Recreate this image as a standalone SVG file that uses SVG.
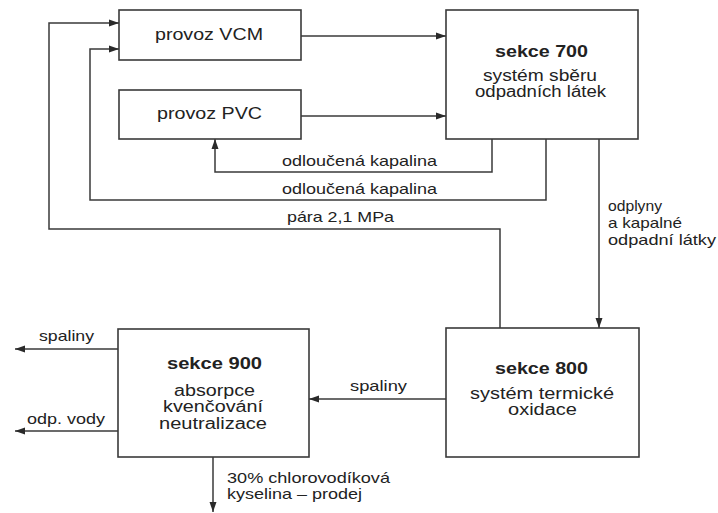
<svg xmlns="http://www.w3.org/2000/svg" width="718" height="513" viewBox="0 0 718 513">
<style>
.box{fill:#fff;stroke:#3a3a3a;stroke-width:1.6}
.ln{fill:none;stroke:#3a3a3a;stroke-width:1.5}
text{font-family:"Liberation Sans",Arial,sans-serif;fill:#222}
.t{font-size:16px}
.b{font-size:16px;font-weight:bold}
.l{font-size:15px}
</style>
<defs>
<marker id="ah" markerUnits="userSpaceOnUse" markerWidth="11" markerHeight="8" refX="10" refY="4" orient="auto">
<path d="M0,0.5 L10,4 L0,7.5 z" fill="#2a2a2a"/>
</marker>
</defs>
<rect width="718" height="513" fill="#fff"/>
<g id="connectors">
<path class="ln" d="M301,36 H446" marker-end="url(#ah)"/>
<path class="ln" d="M301,116 H446" marker-end="url(#ah)"/>
<path class="ln" d="M492,139 V172 H215 V139" marker-end="url(#ah)"/>
<path class="ln" d="M546,139 V200 H90 V49 H119" marker-end="url(#ah)"/>
<path class="ln" d="M500,328 V229 H49 V23 H119" marker-end="url(#ah)"/>
<path class="ln" d="M599,139 V328" marker-end="url(#ah)"/>
<path class="ln" d="M446,399 H309" marker-end="url(#ah)"/>
<path class="ln" d="M118,349 H15" marker-end="url(#ah)"/>
<path class="ln" d="M118,431 H15" marker-end="url(#ah)"/>
<path class="ln" d="M213,457 V512" marker-end="url(#ah)"/>
<text class="l" x="282" y="166" textLength="155" lengthAdjust="spacingAndGlyphs">odloučená kapalina</text>
<text class="l" x="282" y="194" textLength="155" lengthAdjust="spacingAndGlyphs">odloučená kapalina</text>
<text class="l" x="287" y="222" textLength="107" lengthAdjust="spacingAndGlyphs">pára 2,1 MPa</text>
<text class="l" x="608" y="211" textLength="54" lengthAdjust="spacingAndGlyphs">odplyny</text>
<text class="l" x="608" y="228" textLength="74" lengthAdjust="spacingAndGlyphs">a kapalné</text>
<text class="l" x="608" y="245" textLength="108" lengthAdjust="spacingAndGlyphs">odpadní látky</text>
<text class="l" x="350" y="391" textLength="57" lengthAdjust="spacingAndGlyphs">spaliny</text>
<text class="l" x="39" y="341" textLength="55" lengthAdjust="spacingAndGlyphs">spaliny</text>
<text class="l" x="27" y="424" textLength="78" lengthAdjust="spacingAndGlyphs">odp. vody</text>
<text class="l" x="227" y="483" textLength="163" lengthAdjust="spacingAndGlyphs">30% chlorovodíková</text>
<text class="l" x="227" y="499" textLength="135" lengthAdjust="spacingAndGlyphs">kyselina – prodej</text>
</g>
<g id="vcm">
<rect class="box" x="119" y="10" width="182" height="50"/>
<text class="t" x="155" y="40" textLength="108" lengthAdjust="spacingAndGlyphs">provoz VCM</text>
</g>
<g id="pvc">
<rect class="box" x="119" y="90" width="182" height="49"/>
<text class="t" x="157" y="119" textLength="105" lengthAdjust="spacingAndGlyphs">provoz PVC</text>
</g>
<g id="s700">
<rect class="box" x="446" y="10" width="192" height="129"/>
<text class="b" x="495" y="57" textLength="93" lengthAdjust="spacingAndGlyphs">sekce 700</text>
<text class="t" x="483" y="81" textLength="114" lengthAdjust="spacingAndGlyphs">systém sběru</text>
<text class="t" x="475" y="97" textLength="131" lengthAdjust="spacingAndGlyphs">odpadních látek</text>
</g>
<g id="s800">
<rect class="box" x="446" y="328" width="193" height="129"/>
<text class="b" x="495" y="374" textLength="93" lengthAdjust="spacingAndGlyphs">sekce 800</text>
<text class="t" x="470" y="399" textLength="144" lengthAdjust="spacingAndGlyphs">systém termické</text>
<text class="t" x="508" y="415" textLength="69" lengthAdjust="spacingAndGlyphs">oxidace</text>
</g>
<g id="s900">
<rect class="box" x="118" y="329" width="191" height="128"/>
<text class="b" x="167" y="369" textLength="95" lengthAdjust="spacingAndGlyphs">sekce 900</text>
<text class="t" x="174" y="396" textLength="81" lengthAdjust="spacingAndGlyphs">absorpce</text>
<text class="t" x="163" y="412" textLength="100" lengthAdjust="spacingAndGlyphs">kvenčování</text>
<text class="t" x="159" y="429" textLength="108" lengthAdjust="spacingAndGlyphs">neutralizace</text>
</g>
</svg>
